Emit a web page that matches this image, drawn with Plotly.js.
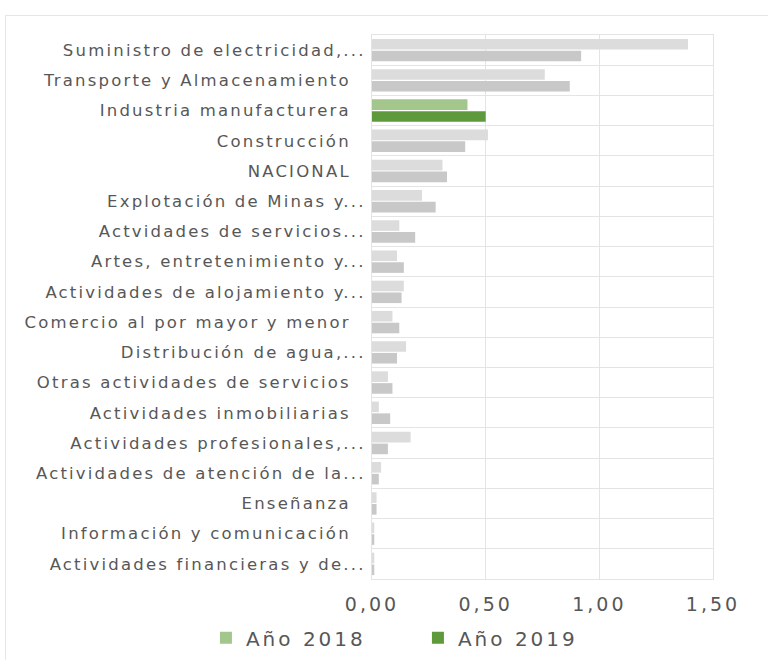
<!DOCTYPE html>
<html><head><meta charset="utf-8">
<script src="https://cdn.plot.ly/plotly-3.0.1.min.js"></script>
<style>
html,body{margin:0;padding:0;background:#fff;}
#wrap{position:relative;width:768px;height:660px;overflow:hidden;}
#chart{width:768px;height:660px;}
#frame{position:absolute;left:5px;top:15px;width:800px;height:700px;border-left:1px solid #e6e6e6;border-top:1px solid #e6e6e6;pointer-events:none;}
.ytick text{letter-spacing:2.2px;}
.xtick text{letter-spacing:3px;}
.legendtext{letter-spacing:3px;}
</style></head>
<body><div id="wrap"><div id="chart"></div><div id="frame"></div></div>
<script>
const categories = [
  "Suministro de electricidad,...",
  "Transporte y Almacenamiento\u00a0\u00a0",
  "Industria manufacturera\u00a0\u00a0",
  "Construcción\u00a0\u00a0",
  "NACIONAL\u00a0\u00a0",
  "Explotación de Minas y...",
  "Actvidades de servicios...",
  "Artes, entretenimiento y...",
  "Actividades de alojamiento y...",
  "Comercio al por mayor y menor\u00a0\u00a0",
  "Distribución de agua,...",
  "Otras actividades de servicios\u00a0\u00a0",
  "Actividades inmobiliarias\u00a0\u00a0",
  "Actividades profesionales,...",
  "Actividades de atención de la...",
  "Enseñanza\u00a0\u00a0",
  "Información y comunicación\u00a0\u00a0",
  "Actividades financieras y de..."
];
const values2018 = [1.39, 0.76, 0.42, 0.51, 0.31, 0.22, 0.12, 0.11, 0.14, 0.09, 0.15, 0.07, 0.03, 0.17, 0.04, 0.02, 0.01, 0.01];
const values2019 = [0.92, 0.87, 0.50, 0.41, 0.33, 0.28, 0.19, 0.14, 0.13, 0.12, 0.11, 0.09, 0.08, 0.07, 0.03, 0.02, 0.01, 0.01];
const seriesNames = ["Año 2018", "Año 2019"];
const highlightIndex = 2;
const xTicks = [0, 0.5, 1.0, 1.5];

const flags = categories.map((c, i) => i === highlightIndex ? 1 : 0);
function scale(gray, green) {
  return [[0, gray], [0.4999, gray], [0.5, green], [1, green]];
}
const textColor = '#575757';
const gridColor = '#e4e4e4';

const traces = [
  {type: 'bar', orientation: 'h', name: seriesNames[0], x: values2018, y: categories,
   marker: {color: flags, cmin: 0, cmax: 1, colorscale: scale('#dcdcdc', '#a3c68c'), showscale: false},
   hoverinfo: 'x+y'},
  {type: 'bar', orientation: 'h', name: seriesNames[1], x: values2019, y: categories,
   marker: {color: flags, cmin: 0, cmax: 1, colorscale: scale('#c8c8c8', '#5e9a3c'), showscale: false},
   hoverinfo: 'x+y'}
];

const layout = {
  width: 768, height: 660,
  margin: {l: 372, r: 55, t: 35, b: 81, pad: 0, autoexpand: false},
  paper_bgcolor: '#ffffff', plot_bgcolor: '#ffffff',
  separators: ',.',
  barmode: 'group', bargap: 0.22, bargroupgap: 0.1,
  font: {family: 'DejaVu Sans', color: textColor},
  xaxis: {range: [0, 1.5], tickvals: xTicks, tickformat: '.2f', showgrid: true, gridcolor: gridColor, gridwidth: 1,
          zeroline: false, showline: true, mirror: true, linecolor: gridColor, linewidth: 1, ticks: '',
          tickfont: {size: 19, color: textColor}, ticklabelstandoff: 8, fixedrange: true, automargin: false},
  yaxis: {type: 'category', autorange: 'reversed', tickson: 'boundaries', showgrid: true, gridcolor: gridColor, gridwidth: 1,
          zeroline: false, showline: true, mirror: true, linecolor: gridColor, linewidth: 1, ticks: '',
          tickfont: {size: 16.5, color: textColor}, ticklabelstandoff: 2, fixedrange: true, automargin: false},
  showlegend: true,
  legend: {orientation: 'h', xref: 'paper', yref: 'paper', x: -0.487, xanchor: 'left', y: -0.108, yanchor: 'middle',
           entrywidth: 167, entrywidthmode: 'pixels',
           font: {size: 20, color: textColor}, traceorder: 'normal'}
};

Plotly.newPlot('chart', traces, layout, {displayModeBar: false, staticPlot: true});
</script>
</body></html>
